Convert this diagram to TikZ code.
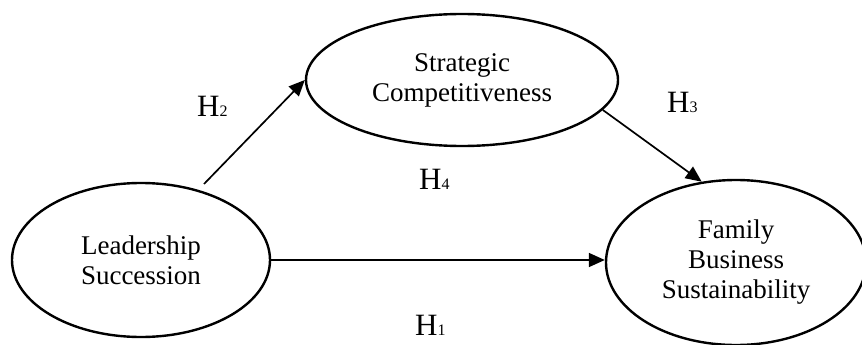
\documentclass[tikz,border=0pt]{standalone}
\usepackage{fontspec}
\setmainfont{Liberation Serif}
\usetikzlibrary{shapes.geometric,arrows.meta,calc}
\tikzset{
  construct/.style={ellipse, draw, line width=2.4pt, inner sep=0pt, align=center,
    font=\fontsize{27}{30}\selectfont},
  path/.style={line width=1.7pt, -{Triangle[length=16pt,width=14pt]}},
  hyp/.style={anchor=base west, inner sep=0pt, font=\fontsize{31}{31}\selectfont}
}
\newcommand{\hlab}[1]{H{\fontsize{16}{16}\selectfont #1}}
\begin{document}
\begin{tikzpicture}[x=1pt,y=1pt]
\useasboundingbox (0,0) rectangle (862,-345);
\clip (0,0) rectangle (862,-345);
\node[construct, minimum width=258pt, minimum height=154pt] (ls) at (141,-260) {Leadership\\Succession};
\node[construct, minimum width=312pt, minimum height=132pt] (sc) at (462,-80) {Strategic\\Competitiveness};
\node[construct, minimum width=260pt, minimum height=165pt] (fb) at (736,-262.5) {Family\\Business\\Sustainability};
\coordinate (h2s) at (204,-184);
\draw[path] (h2s) -- (sc.west);
\draw[path] (sc.-12) -- (fb.113);
\draw[path] (ls.east) -- (ls.east -| fb.west);
\node[hyp] (h2) at (197,-116) {\hlab{2}};
\node[hyp] (h3) at (667,-112) {\hlab{3}};
\node[hyp] (h4) at (419,-189) {\hlab{4}};
\node[hyp] (h1) at (415,-335) {\hlab{1}};
\end{tikzpicture}
\end{document}
